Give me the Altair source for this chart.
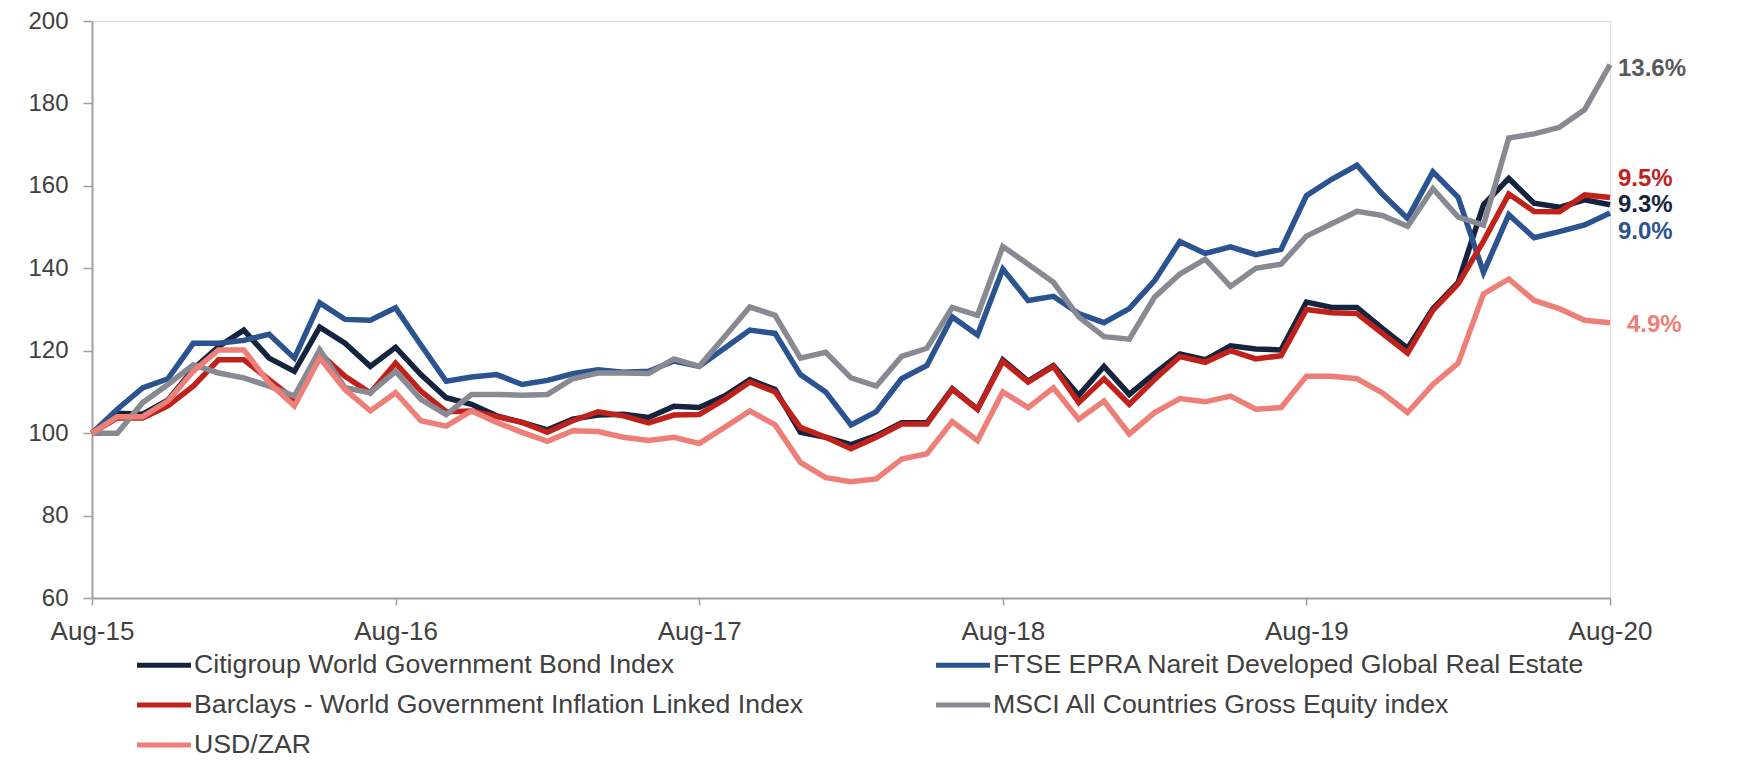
import json
import altair as alt
import pandas as pd

# ---------------- data ----------------
tick_labels = ["Aug-15", "Aug-16", "Aug-17", "Aug-18", "Aug-19", "Aug-20"]

series_names = [
    "Citigroup World Government Bond Index",
    "FTSE EPRA Nareit Developed Global Real Estate",
    "Barclays - World Government Inflation Linked Index",
    "MSCI All Countries Gross Equity index",
    "USD/ZAR",
]
series_colors = ["#14243E", "#2A5390", "#C0221B", "#878A93", "#EE7F78"]
# order of entries in the two-column legend (filled column by column)
legend_order = [0, 2, 4, 1, 3]

citigroup = [100, 104.8, 104.6, 108.0, 115.5, 121.0, 125.0, 118.2, 115.0, 125.7,
             121.8, 116.2, 120.8, 114.2, 108.6, 107.0, 104.2, 102.6, 100.8, 103.4,
             104.4, 104.6, 103.8, 106.5, 106.2, 109.0, 113.0, 110.6, 100.2, 99.0,
             97.2, 99.4, 102.5, 102.5, 110.8, 105.8, 117.8, 112.6, 116.4, 109.2,
             116.2, 109.4, 114.5, 119.2, 117.8, 121.2, 120.4, 120.2, 131.8, 130.5,
             130.5, 125.4, 120.6, 130.2, 136.6, 155.4, 161.8, 155.8, 154.8, 156.6,
             155.4]
ftse = [100, 105.8, 111.0, 113.2, 121.8, 121.8, 122.5, 124.0, 118.2, 131.6,
        127.6, 127.4, 130.4, 121.4, 112.6, 113.6, 114.2, 111.8, 112.8, 114.4,
        115.4, 114.8, 115.0, 117.5, 116.2, 120.6, 125.0, 124.2, 114.2, 110.0,
        102.0, 105.2, 113.2, 116.4, 128.2, 123.8, 139.8, 132.2, 133.2, 129.0,
        126.8, 130.2, 137.0, 146.5, 143.6, 145.2, 143.3, 144.6, 157.6, 161.6,
        165.0, 158.0, 152.1, 163.4, 157.2, 139.0, 153.0, 147.4, 148.9, 150.5,
        153.4]
barclays = [100, 103.7, 103.7, 106.6, 111.4, 117.8, 117.8, 113.0, 108.2, 119.4,
            113.8, 109.8, 117.0, 110.2, 105.2, 105.4, 104.0, 102.6, 100.2, 103.0,
            105.2, 104.2, 102.5, 104.4, 104.5, 108.2, 112.4, 110.0, 101.4, 99.0,
            96.2, 99.0, 102.2, 102.2, 110.6, 105.8, 117.4, 112.4, 116.2, 107.4,
            113.2, 107.0, 113.0, 118.6, 117.2, 120.0, 118.0, 118.8, 130.0, 129.2,
            129.0, 124.2, 119.4, 129.8, 136.2, 146.6, 158.0, 153.8, 153.7, 157.8,
            157.2]
msci = [100, 100.0, 107.4, 111.8, 116.6, 114.6, 113.4, 111.4, 109.0, 120.2,
        111.0, 109.8, 115.0, 108.2, 104.5, 109.4, 109.4, 109.2, 109.4, 113.2,
        114.6, 114.6, 114.5, 118.0, 116.2, 123.4, 130.6, 128.6, 118.2, 119.6,
        113.4, 111.4, 118.6, 120.6, 130.5, 128.6, 145.3, 141.0, 136.6, 128.2,
        123.4, 122.8, 133.0, 138.6, 142.2, 135.6, 140.0, 141.0, 147.8, 150.8,
        153.8, 152.8, 150.2, 159.3, 152.4, 150.5, 171.6, 172.6, 174.2, 178.5,
        189.4]
usdzar = [100, 104.0, 104.0, 107.8, 115.0, 120.2, 120.2, 112.2, 106.6, 118.2,
          110.6, 105.4, 109.8, 103.0, 101.7, 105.4, 102.6, 100.2, 98.0, 100.6,
          100.4, 99.0, 98.2, 99.0, 97.5, 101.4, 105.4, 102.0, 92.9, 89.2,
          88.2, 88.9, 93.7, 95.0, 102.8, 98.2, 110.0, 106.2, 111.0, 103.4,
          107.8, 99.8, 105.0, 108.4, 107.6, 109.0, 105.8, 106.2, 113.8, 113.8,
          113.2, 109.8, 105.0, 111.8, 117.0, 133.8, 137.4, 132.2, 130.2, 127.4,
          126.8]

end_labels = ["9.3%", "9.0%", "9.5%", "13.6%", "4.9%"]
end_label_values = [155.3, 148.9, 161.7, 188.3, 126.2]
end_label_colors = ["#14243E", "#2A5390", "#C0221B", "#5A5A5A", "#EE7F78"]

# ---------------- tables ----------------
all_series = [citigroup, ftse, barclays, msci, usdzar]
rows = []
for name, vals in zip(series_names, all_series):  # drawing order
    for m, v in enumerate(vals):
        rows.append({"series": name, "month": m, "value": v})
df = pd.DataFrame(rows)

legend_names = [series_names[i] for i in legend_order]
legend_colors = [series_colors[i] for i in legend_order]

last_month = len(citigroup) - 1
lab_df = pd.DataFrame({
    "series": series_names,
    "month": [last_month] * len(series_names),
    "value": end_label_values,
    "text": end_labels,
    "tcolor": end_label_colors,
})

FONT = "Liberation Sans"
TXT = "#404040"
AX = "#A0A0A0"

label_expr = json.dumps(tick_labels) + "[round(datum.value / 12)]"

x_enc = alt.X(
    "month:Q",
    scale=alt.Scale(domain=[0, last_month], nice=False, zero=False),
    axis=alt.Axis(
        values=[0, 12, 24, 36, 48, 60], labelExpr=label_expr, title=None,
        grid=False, labelFontSize=26, labelFont=FONT, labelColor=TXT,
        labelFlush=False, labelOverlap=False, tickSize=7, labelPadding=13,
        domainColor=AX, tickColor=AX, domainWidth=2, tickWidth=1.5,
    ),
)
y_enc = alt.Y(
    "value:Q",
    scale=alt.Scale(domain=[60, 200], nice=False, zero=False),
    axis=alt.Axis(
        values=[60, 80, 100, 120, 140, 160, 180, 200], title=None, grid=False,
        labelFontSize=24, labelFont=FONT, labelColor=TXT, tickSize=9,
        labelPadding=15, domainColor=AX, tickColor=AX, domainWidth=2, tickWidth=1.5,
    ),
)

lines = alt.Chart(df).mark_line(strokeWidth=5.5, strokeJoin="miter").encode(
    x=x_enc,
    y=y_enc,
    color=alt.Color(
        "series:N",
        sort=legend_names,
        scale=alt.Scale(domain=legend_names, range=legend_colors),
        legend=alt.Legend(
            title=None, orient="none", legendX=56, legendY=628, columns=2,
            symbolType="M-2,0H2", symbolSize=729, symbolStrokeWidth=5,
            labelFont=FONT, labelFontSize=26.7, labelColor=TXT, labelLimit=2000,
            labelOffset=14, columnPadding=122, rowPadding=10, padding=0,
        ),
    ),
)

text_main = alt.Chart(lab_df).mark_text(
    align="left", baseline="middle", fontSize=24, fontWeight="bold", font=FONT, dx=8
).encode(
    x="month:Q", y="value:Q", text="text:N",
    color=alt.Color("tcolor:N", scale=None),
).transform_filter(alt.datum.text != "4.9%")

text_zar = alt.Chart(lab_df).mark_text(
    align="left", baseline="middle", fontSize=24, fontWeight="bold", font=FONT, dx=17
).encode(
    x="month:Q", y="value:Q", text="text:N",
    color=alt.Color("tcolor:N", scale=None),
).transform_filter(alt.datum.text == "4.9%")

chart = alt.layer(lines, text_main, text_zar).properties(
    width=1518, height=577,
    padding={"left": 84, "top": 13, "right": 144, "bottom": 168},
    autosize=alt.AutoSizeParams(type="none"),
).configure_view(stroke=None).configure(background="white")

chart.save("out.html", embed_options={"renderer": "svg", "actions": False})
